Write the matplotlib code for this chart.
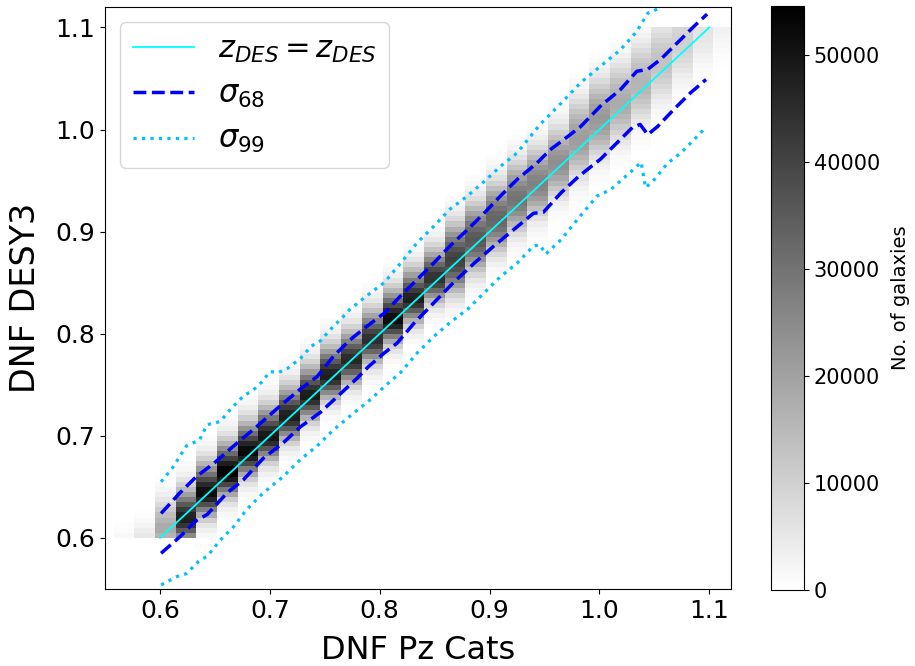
import numpy as np
import matplotlib
matplotlib.use("Agg")
import matplotlib.pyplot as plt

# bin layout of the 2D histogram (x: DNF Pz Cats, y: DNF DESY3)
x_lo, x_w, n_x = 0.5579, 0.01882, 30
y_lo, y_w, n_y = 0.6, 0.005, 100

# first y-bin index of every column, then the counts (thousands) going up
col_start = [0, 0, 0, 0, 0, 4, 8, 11, 15, 19, 23, 26, 30, 34, 38, 42,
             43, 47, 51, 55, 58, 62, 65, 69, 72, 76, 80, 84, 87, 91]
col_counts = [
    [1.5, 1, 0.5, 0.2],
    [5, 4, 2.5, 1.5, 0.8, 0.3],
    [16, 18, 18, 16, 14, 11, 8, 5.5, 3.5, 2.2, 1.3, 0.7, 0.3],
    [25, 34.6, 43.2, 48, 47, 42.2, 35.5, 27.8, 20.6, 14.4, 9.6, 5.8, 3.4, 1.9, 1],
    [1.6, 3.1, 5.7, 10.4, 17.7, 27, 37.4, 46.8, 52, 51, 45.8, 38.5, 30.2, 22.4, 15.6, 10.4, 6.2, 3.6, 2.1, 1],
    [1.6, 3.3, 6, 10.9, 18.6, 28.4, 39.3, 49.1, 54.6, 53.5, 48, 40.4, 31.7, 23.5, 16.4, 10.9, 6.6, 3.8, 2.2, 1.1],
    [1.6, 3.2, 5.8, 10.6, 18, 27.6, 38.2, 47.7, 53, 51.9, 46.6, 39.2, 30.7, 22.8, 15.9, 10.6, 6.4, 3.7, 2.1, 1.1],
    [1.5, 3, 5.5, 10, 17, 26, 36, 45, 50, 49, 44, 37, 29, 21.5, 15, 10, 6, 3.5, 2, 1],
    [1.4, 2.9, 5.3, 9.6, 16.3, 25, 34.6, 43.2, 48, 47, 42.2, 35.5, 27.8, 20.6, 14.4, 9.6, 5.8, 3.4, 1.9, 1],
    [1.5, 2.9, 5.4, 9.8, 16.7, 25.5, 35.3, 44.1, 49, 48, 43.1, 36.3, 28.4, 21.1, 14.7, 9.8, 5.9, 3.4, 2, 1],
    [1.4, 2.9, 5.3, 9.6, 16.3, 25, 34.6, 43.2, 48, 47, 42.2, 35.5, 27.8, 20.6, 14.4, 9.6, 5.8, 3.4, 1.9, 1],
    [1.4, 2.8, 5.1, 9.2, 15.6, 23.9, 33.1, 41.4, 46, 45.1, 40.5, 34, 26.7, 19.8, 13.8, 9.2, 5.5, 3.2, 1.8, 0.9],
    [1.4, 2.7, 5, 9, 15.3, 23.4, 32.4, 40.5, 45, 44.1, 39.6, 33.3, 26.1, 19.4, 13.5, 9, 5.4, 3.2, 1.8, 0.9],
    [1.6, 3.1, 5.7, 10.4, 17.7, 27, 37.4, 46.8, 52, 51, 45.8, 38.5, 30.2, 22.4, 15.6, 10.4, 6.2, 3.6, 2.1, 1],
    [1.4, 2.9, 5.3, 9.6, 16.3, 25, 34.6, 43.2, 48, 47, 42.2, 35.5, 27.8, 20.6, 14.4, 9.6, 5.8, 3.4, 1.9, 1],
    [1.3, 2.6, 4.8, 8.8, 15, 22.9, 31.7, 39.6, 44, 43.1, 38.7, 32.6, 25.5, 18.9, 13.2, 8.8, 5.3, 3.1, 1.8, 0.9],
    [1.2, 2, 3.7, 6.2, 9.8, 14.8, 20.5, 26.7, 32.4, 36.9, 39.8, 41, 39.8, 36.9, 32.8, 27.9, 22.6, 17.2, 12.3, 8.2, 5.3, 3.3, 1.8, 0.8],
    [1.1, 1.8, 3.2, 5.4, 8.6, 13, 18, 23.4, 28.4, 32.4, 34.9, 36, 34.9, 32.4, 28.8, 24.5, 19.8, 15.1, 10.8, 7.2, 4.7, 2.9, 1.6, 0.7],
    [1, 1.7, 3, 5, 7.9, 11.9, 16.5, 21.5, 26.1, 29.7, 32, 33, 32, 29.7, 26.4, 22.4, 18.2, 13.9, 9.9, 6.6, 4.3, 2.6, 1.5, 0.7],
    [0.9, 1.5, 2.7, 4.5, 7.2, 10.8, 15, 19.5, 23.7, 27, 29.1, 30, 29.1, 27, 24, 20.4, 16.5, 12.6, 9, 6, 3.9, 2.4, 1.4, 0.6],
    [0.8, 1.4, 2.4, 4, 6.5, 9.7, 13.5, 17.6, 21.3, 24.3, 26.2, 27, 26.2, 24.3, 21.6, 18.4, 14.9, 11.3, 8.1, 5.4, 3.5, 2.2, 1.2, 0.5],
    [0.7, 1.2, 2.2, 3.6, 5.8, 8.6, 12, 15.6, 19, 21.6, 23.3, 24, 23.3, 21.6, 19.2, 16.3, 13.2, 10.1, 7.2, 4.8, 3.1, 1.9, 1.1, 0.5],
    [0.6, 1.1, 1.7, 2.7, 4.2, 6.1, 8.4, 10.9, 13.7, 16.2, 18.3, 20, 20.8, 21, 20.4, 19.1, 17.2, 14.9, 12.4, 9.9, 7.4, 5.3, 3.6, 2.1, 1.3, 0.6],
    [0.7, 1.1, 1.8, 2.9, 4.4, 6.4, 8.8, 11.4, 14.3, 16.9, 19.1, 20.9, 21.8, 22, 21.3, 20, 18, 15.6, 13, 10.3, 7.7, 5.5, 3.7, 2.2, 1.3, 0.7],
    [0.5, 0.9, 1.4, 2.3, 3.6, 5.2, 7.2, 9.4, 11.7, 13.9, 15.7, 17.1, 17.8, 18, 17.5, 16.4, 14.8, 12.8, 10.6, 8.5, 6.3, 4.5, 3.1, 1.8, 1.1, 0.5],
    [0.5, 0.8, 1.3, 2.1, 3.2, 4.6, 6.4, 8.3, 10.4, 12.3, 13.9, 15.2, 15.8, 16, 15.5, 14.6, 13.1, 11.4, 9.4, 7.5, 5.6, 4, 2.7, 1.6],
    [0.4, 0.7, 1, 1.7, 2.6, 3.8, 5.2, 6.8, 8.5, 10, 11.3, 12.4, 12.9, 13, 12.6, 11.8, 10.7, 9.2, 7.7, 6.1],
    [0.3, 0.5, 0.8, 1.3, 2, 2.9, 4, 5.2, 6.5, 7.7, 8.7, 9.5, 9.9, 10, 9.7, 9.1],
    [0.2, 0.3, 0.5, 0.8, 1.2, 1.7, 2.4, 3.1, 3.9, 4.6, 5.2, 5.7, 5.9],
    [0.2, 0.3, 0.5, 0.8, 1.1, 1.5, 2, 2.5, 3],
]

# sigma_68 / sigma_99 envelopes
s68_up_x = [0.601, 0.618, 0.633, 0.649, 0.667, 0.688, 0.709, 0.728, 0.743, 0.758, 0.773, 0.788,
            0.804, 0.819, 0.834, 0.849, 0.864, 0.880, 0.895, 0.910, 0.925, 0.943, 0.955, 0.971,
            0.983, 1.001, 1.019, 1.034, 1.044, 1.056, 1.071, 1.086, 1.098]
s68_up_y = [0.624, 0.644, 0.660, 0.673, 0.690, 0.709, 0.729, 0.746, 0.758, 0.778, 0.794, 0.807,
            0.820, 0.837, 0.853, 0.869, 0.886, 0.902, 0.918, 0.935, 0.951, 0.967, 0.980, 0.993,
            1.003, 1.023, 1.039, 1.057, 1.059, 1.069, 1.085, 1.101, 1.113]
s68_lo_x = [0.601, 0.618, 0.633, 0.643, 0.661, 0.676, 0.694, 0.712, 0.728, 0.746, 0.764, 0.779,
            0.790, 0.804, 0.816, 0.831, 0.849, 0.867, 0.886, 0.904, 0.922, 0.940, 0.949, 0.965,
            0.981, 1.001, 1.016, 1.030, 1.037, 1.044, 1.053, 1.068, 1.083, 1.097]
s68_lo_y = [0.585, 0.601, 0.617, 0.623, 0.644, 0.657, 0.678, 0.693, 0.709, 0.723, 0.741, 0.756,
            0.768, 0.781, 0.791, 0.810, 0.830, 0.850, 0.869, 0.886, 0.902, 0.918, 0.919, 0.938,
            0.954, 0.971, 0.987, 1.002, 1.005, 0.995, 1.003, 1.020, 1.036, 1.049]
s99_up_x = [0.601, 0.611, 0.624, 0.636, 0.643, 0.655, 0.664, 0.676, 0.685, 0.693, 0.700, 0.708,
            0.716, 0.728, 0.738, 0.746, 0.755, 0.767, 0.773, 0.788, 0.804, 0.819, 0.834, 0.849,
            0.864, 0.880, 0.895, 0.910, 0.925, 0.940, 0.946, 0.968, 0.983, 1.001, 1.019, 1.034,
            1.044, 1.053]
s99_up_y = [0.655, 0.668, 0.690, 0.696, 0.711, 0.714, 0.726, 0.739, 0.745, 0.753, 0.763, 0.762,
            0.766, 0.776, 0.788, 0.793, 0.804, 0.817, 0.824, 0.837, 0.850, 0.869, 0.889, 0.905,
            0.922, 0.935, 0.949, 0.964, 0.977, 0.997, 1.005, 1.029, 1.046, 1.062, 1.078, 1.096,
            1.114, 1.118]
s99_lo_x = [0.601, 0.615, 0.624, 0.636, 0.643, 0.655, 0.667, 0.679, 0.694, 0.712, 0.728, 0.743,
            0.758, 0.776, 0.791, 0.804, 0.819, 0.834, 0.849, 0.864, 0.880, 0.895, 0.910, 0.925,
            0.940, 0.946, 0.951, 0.965, 0.980, 0.998, 1.010, 1.028, 1.038, 1.042, 1.050, 1.062,
            1.074, 1.086, 1.095]
s99_lo_y = [0.554, 0.562, 0.565, 0.578, 0.582, 0.598, 0.611, 0.628, 0.644, 0.660, 0.677, 0.690,
            0.706, 0.722, 0.735, 0.748, 0.762, 0.781, 0.797, 0.811, 0.824, 0.840, 0.856, 0.869,
            0.886, 0.887, 0.878, 0.892, 0.912, 0.935, 0.941, 0.958, 0.968, 0.943, 0.951, 0.967,
            0.977, 0.990, 1.000]

diag = [0.6, 1.1]

# build the histogram grid
x_edges = x_lo + x_w * np.arange(n_x + 1)
y_edges = y_lo + y_w * np.arange(n_y + 1)
H = np.zeros((n_y, n_x))
for i, (j0, vals) in enumerate(zip(col_start, col_counts)):
    H[j0:j0 + len(vals), i] = np.array(vals) * 1000

fig = plt.figure(figsize=(9.15, 6.66), dpi=100)
ax = fig.add_axes([0.1148, 0.1156, 0.6844, 0.8739])
cax = fig.add_axes([0.8426, 0.1141, 0.036, 0.877])

mesh = ax.pcolormesh(x_edges, y_edges, H, cmap="gray_r", vmin=0, vmax=H.max())

ax.plot(diag, diag, color="cyan", linewidth=1.3, label=r"$z_{DES}=z_{DES}$")
ax.plot(s68_up_x, s68_up_y, color="blue", linestyle="--", linewidth=2.5, label=r"$\sigma_{68}$")
ax.plot(s68_lo_x, s68_lo_y, color="blue", linestyle="--", linewidth=2.5)
ax.plot(s99_up_x, s99_up_y, color="deepskyblue", linestyle=":", linewidth=2.3, label=r"$\sigma_{99}$")
ax.plot(s99_lo_x, s99_lo_y, color="deepskyblue", linestyle=":", linewidth=2.3)

ax.set_xlim(0.55, 1.12)
ax.set_ylim(0.55, 1.12)
ax.set_xticks([0.6, 0.7, 0.8, 0.9, 1.0, 1.1])
ax.set_yticks([0.6, 0.7, 0.8, 0.9, 1.0, 1.1])
ax.tick_params(labelsize=18)
ax.set_xlabel("DNF Pz Cats", fontsize=23, labelpad=9)
ax.set_ylabel("DNF DESY3", fontsize=24, labelpad=10)
ax.legend(loc="upper left", fontsize=22)

cb = fig.colorbar(mesh, cax=cax)
cb.set_ticks([0, 10000, 20000, 30000, 40000, 50000])
cb.ax.tick_params(labelsize=15)
cb.set_label("No. of galaxies", fontsize=14, labelpad=8)

fig.savefig("out.png", dpi=100)
